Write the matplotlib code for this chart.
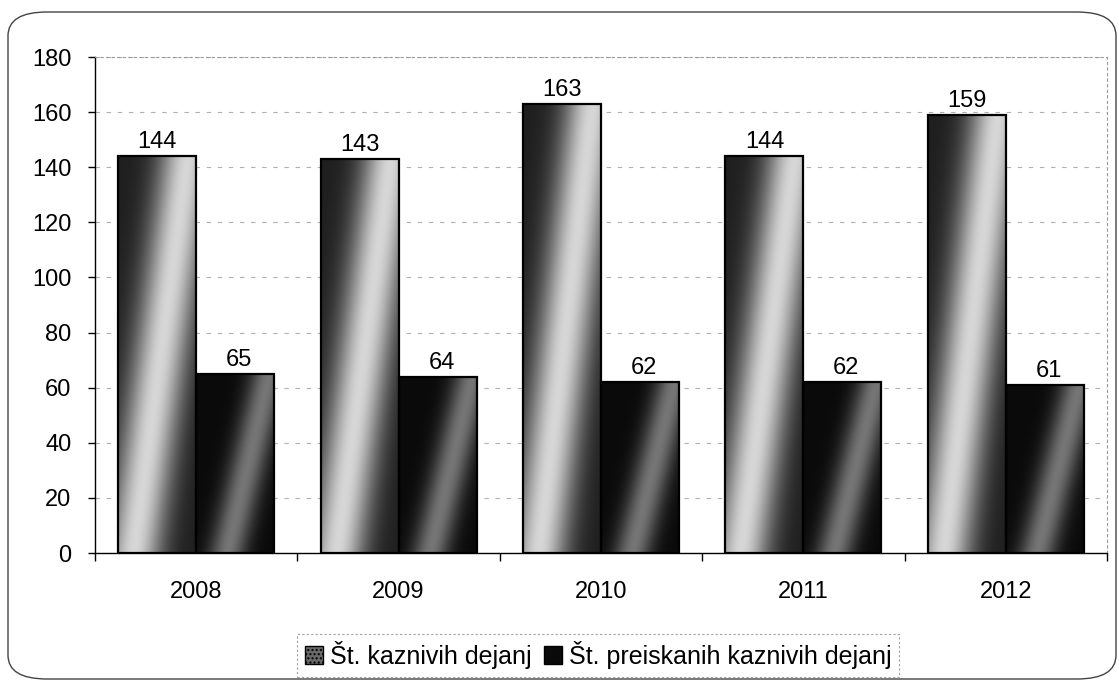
#!/usr/bin/env python3
"""
Bar chart: number of criminal offences vs. investigated offences, 2008-2012.
Saved as out.png.
"""

import numpy as np
import matplotlib
matplotlib.use("Agg")
import matplotlib.pyplot as plt
from matplotlib.patches import FancyBboxPatch, Rectangle, Patch

# -----------------------------------------------------------------------------
# DATA
# -----------------------------------------------------------------------------
years = ["2008", "2009", "2010", "2011", "2012"]
kaznivih = [144, 143, 163, 144, 159]
preiskanih = [65, 64, 62, 62, 61]
series_names = ["Št. kaznivih dejanj", "Št. preiskanih kaznivih dejanj"]
y_ticks = [0, 20, 40, 60, 80, 100, 120, 140, 160, 180]

plt.rcParams["font.family"] = ["Liberation Sans", "DejaVu Sans"]
FS = 17

# -----------------------------------------------------------------------------
def gradient(kind, n=160):
    """Greyscale fill for one bar (rows = top to bottom)."""
    u = np.linspace(0, 1, 80)[None, :]
    v = np.linspace(1, 0, n)[:, None]
    if kind == 0:
        c = 0.2 + 0.7 * v
        return 0.12 + 0.72 * np.exp(-((u - c) / 0.36) ** 2)
    c = 0.4 + 0.55 * v
    return 0.04 + 0.42 * np.exp(-((u - c) / 0.24) ** 2)


fig = plt.figure(figsize=(11.19, 6.81), dpi=100)

# rounded outer frame
frame = FancyBboxPatch((8 / 1119, 2 / 681), 1108 / 1119, 667 / 681,
                       boxstyle="round,pad=0,rounding_size=0.035",
                       transform=fig.transFigure, fill=False,
                       edgecolor="#444444", linewidth=1.0, zorder=0)
fig.patches.append(frame)

ax = fig.add_axes([95 / 1119, 1 - 553 / 681, (1107 - 95) / 1119, (553 - 57) / 681])

width = 0.385
x = np.arange(len(years))
for i in range(len(years)):
    for k, (vals, off) in enumerate([(kaznivih, -width / 2), (preiskanih, width / 2)]):
        x0 = x[i] + off - width / 2
        h = vals[i]
        ax.imshow(gradient(k), extent=[x0, x0 + width, 0, h], aspect="auto",
                  cmap="gray", vmin=0, vmax=1, zorder=2, interpolation="bilinear")
        ax.add_patch(Rectangle((x0, 0), width, h, fill=False,
                               edgecolor="black", linewidth=1.6, zorder=3))
        ax.text(x[i] + off + (0.02 if k else 0), h + 1.0, str(h),
                ha="center", va="bottom", fontsize=FS, zorder=4)

ax.set_xlim(-0.5, len(years) - 0.5)
ax.set_ylim(0, 180)

ax.set_yticks(y_ticks)
ax.set_xticks(x)
ax.set_xticklabels(years)
ax.set_xticks(np.arange(len(years) + 1) - 0.5, minor=True)
ax.tick_params(axis="x", which="major", length=0, pad=20, labelsize=FS)
ax.tick_params(axis="x", which="minor", length=6, direction="out", width=1)
ax.tick_params(axis="y", length=5, direction="out", width=1, labelsize=FS, pad=12)

ax.grid(axis="y", linestyle=(0, (4, 6)), color="#b0b0b0", linewidth=0.8, zorder=1)
ax.set_axisbelow(True)

for side in ["left", "bottom"]:
    ax.spines[side].set_color("black")
    ax.spines[side].set_linewidth(1.0)
for side in ["top", "right"]:
    ax.spines[side].set_color("#999999")
    ax.spines[side].set_linestyle((0, (2, 3)))
    ax.spines[side].set_linewidth(0.8)

handles = [Patch(facecolor="#6a6a6a", edgecolor="black", hatch="...."),
           Patch(facecolor="#0a0a0a", edgecolor="black")]
leg = fig.legend(handles, series_names, loc="center",
                 bbox_to_anchor=(598 / 1119, 1 - 655 / 681), ncol=2,
                 fontsize=18, frameon=True, fancybox=False,
                 handlelength=0.75, handleheight=0.75, handletextpad=0.25,
                 columnspacing=0.5, borderpad=0.3, borderaxespad=0)
leg.get_frame().set_edgecolor("#888888")
leg.get_frame().set_linestyle((0, (2, 2)))
leg.get_frame().set_linewidth(0.8)

fig.savefig("out.png", dpi=100)
